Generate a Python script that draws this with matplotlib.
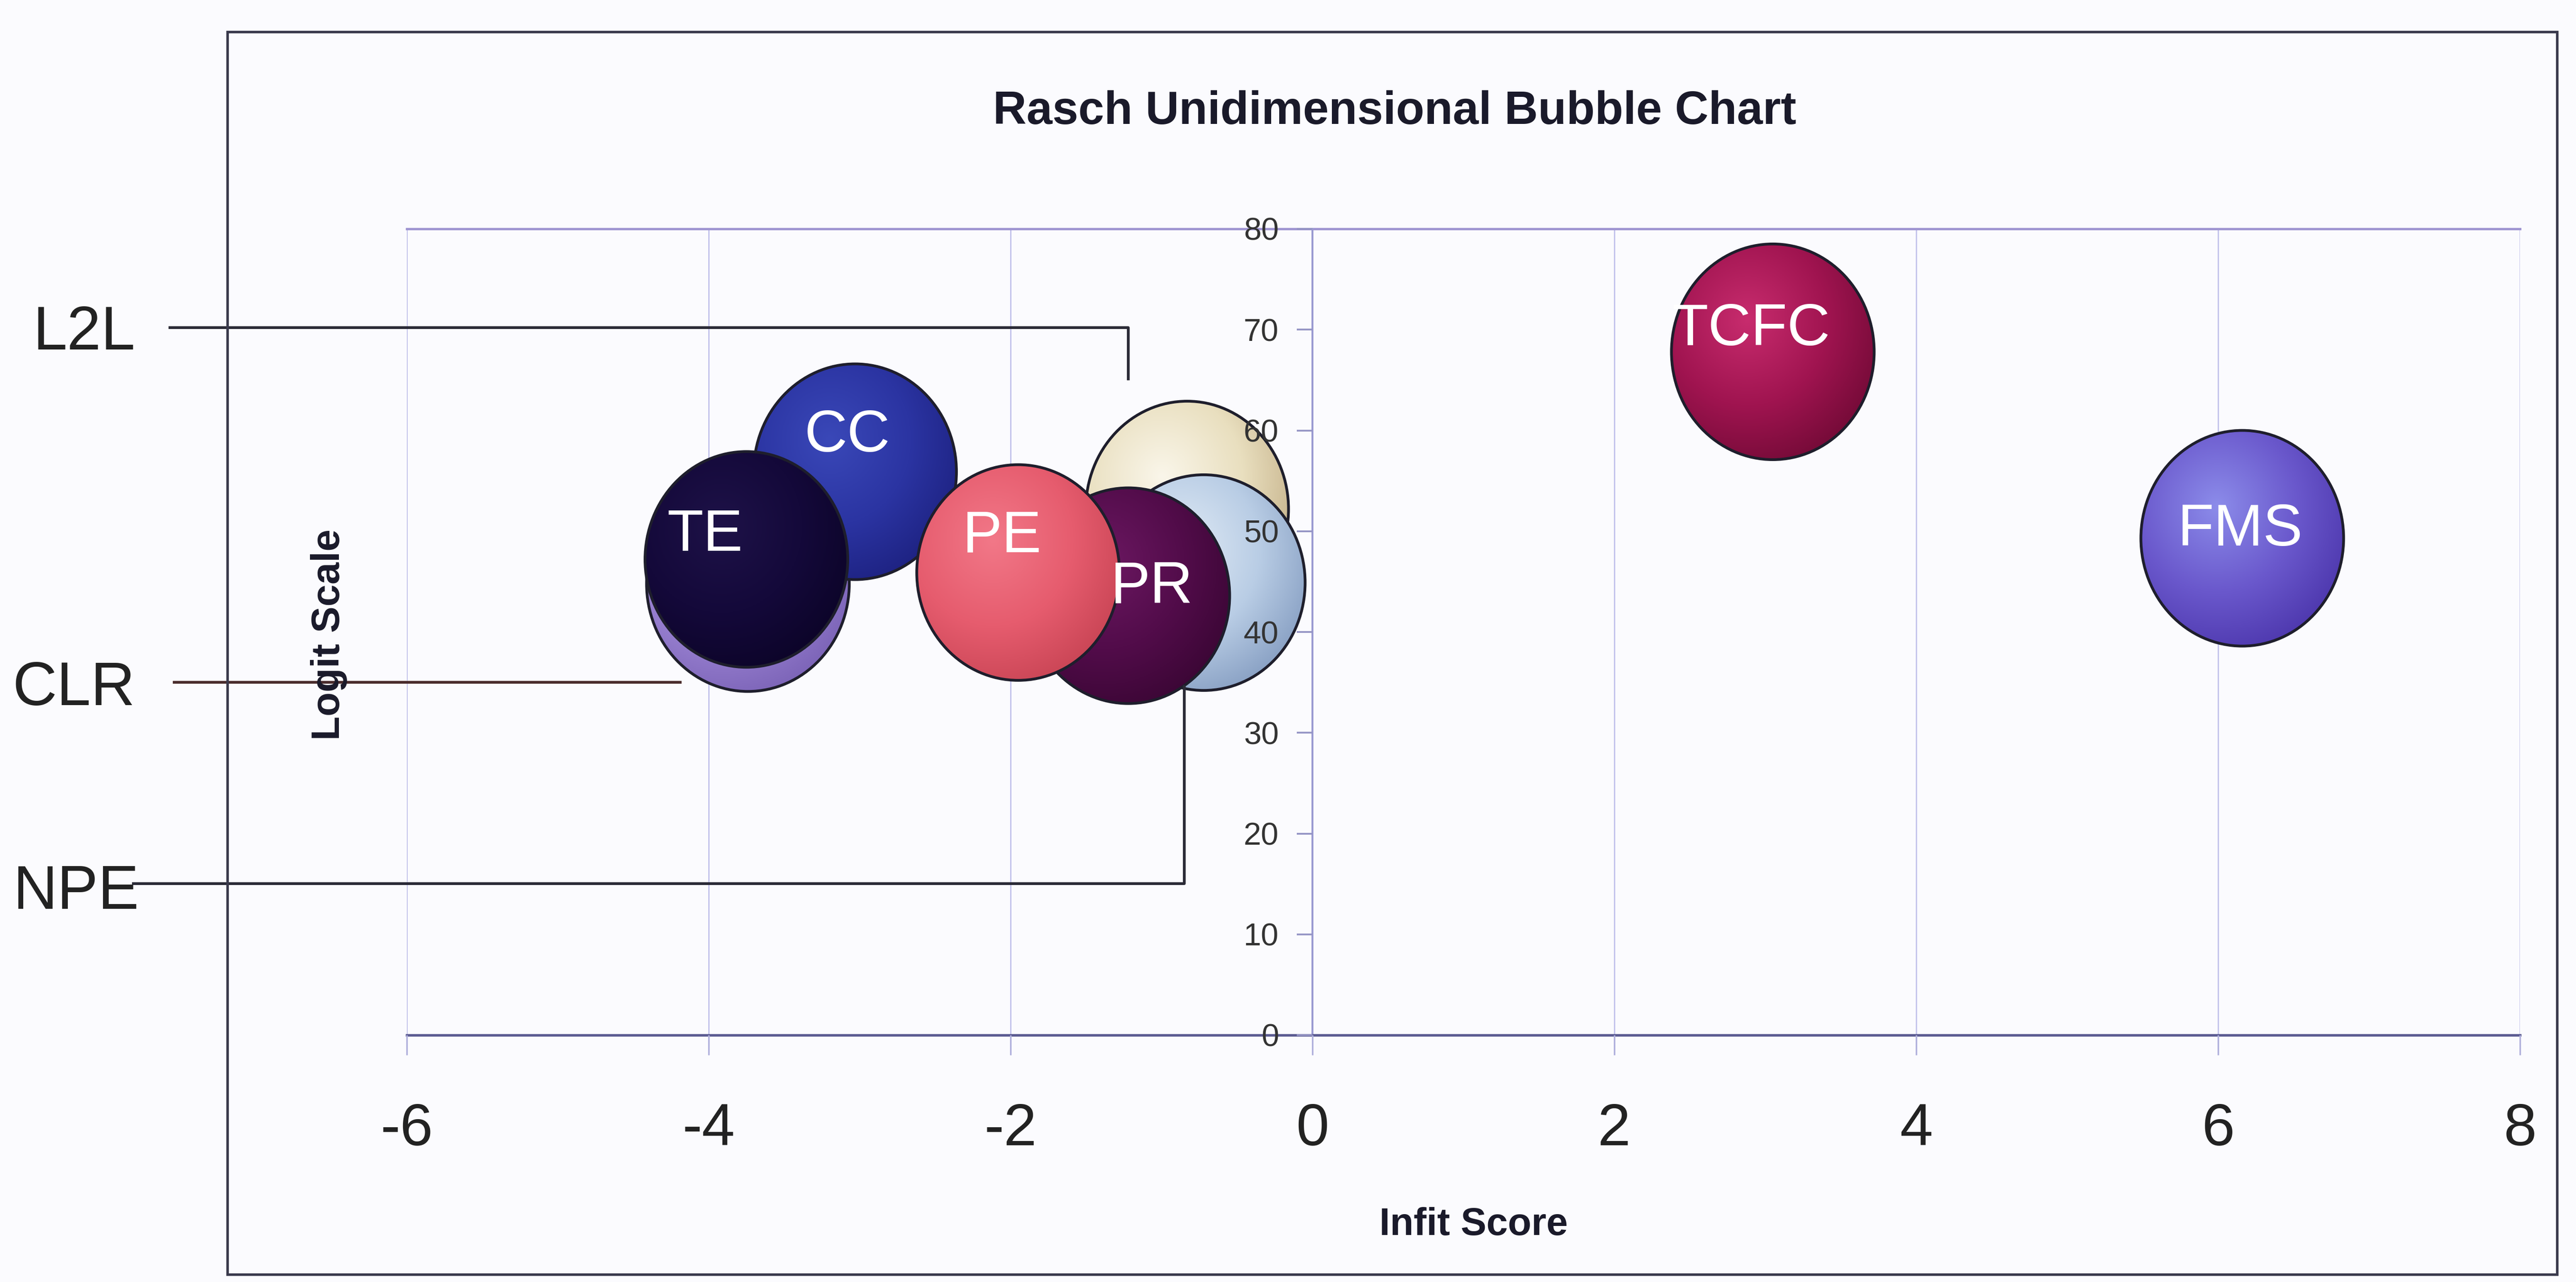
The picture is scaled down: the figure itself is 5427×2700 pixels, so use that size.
import numpy as np
import matplotlib
matplotlib.use("Agg")
import matplotlib.pyplot as plt
from matplotlib.patches import Ellipse, Rectangle
from matplotlib.colors import to_rgb

plt.rcParams["font.family"] = ["Liberation Sans", "DejaVu Sans"]
plt.rcParams["axes.unicode_minus"] = False

# bubble series, listed back to front
names = ["CLR", "L2L", "NPE", "CC", "TE", "PR", "PE", "TCFC", "FMS"]
infit = [-3.74, -0.83, -0.72, -3.03, -3.75, -1.22, -1.95, 3.05, 6.16]
logit = [44.8, 52.2, 44.9, 55.9, 47.2, 43.6, 45.9, 67.8, 49.3]
bubble_size = [1.0, 1.0, 1.0, 1.0, 1.0, 1.0, 1.0, 1.0, 1.0]
show_label = [False, False, False, True, True, True, True, True, True]

x_ticks = [-6, -4, -2, 0, 2, 4, 6, 8]
y_ticks = [0, 10, 20, 30, 40, 50, 60, 70, 80]

# light / mid / dark tones for the 3-D look
tones = {
    "CLR": ("#b29ce6", "#9a82d2", "#7a62b6"),
    "L2L": ("#faf6ea", "#e9dfbf", "#c2ae86"),
    "NPE": ("#e2ecf6", "#b9cde5", "#869ec2"),
    "CC": ("#3a48b8", "#2b34a2", "#1d2180"),
    "TE": ("#1e1248", "#14093a", "#0c0428"),
    "PR": ("#6c1862", "#520c4a", "#3a0634"),
    "PE": ("#f27888", "#e65c6e", "#c84454"),
    "TCFC": ("#c82c6e", "#a01450", "#720a36"),
    "FMS": ("#8c8cea", "#6a58cc", "#4c36ac"),
}
label_nudge = {
    "CC": (-4, 18), "TE": (-21, 12), "PE": (-8, 18),
    "PR": (12, 4), "TCFC": (-11, 11), "FMS": (-1, 4),
}

# full bubble extent in data units for size 1.0
base_w, base_h = 1.343, 21.4


def shading(light, mid, dark, n=240):
    u = np.linspace(-1, 1, n)
    gx, gy = np.meshgrid(u, u)
    d = np.clip(np.hypot(gx + 0.25, gy - 0.3) / 1.45, 0, 1)[..., None]
    l, m, k = (np.array(to_rgb(c)) for c in (light, mid, dark))
    t1 = np.clip(d / 0.55, 0, 1)
    t2 = np.clip((d - 0.55) / 0.45, 0, 1)
    return np.where(d < 0.55, l * (1 - t1) + m * t1, m * (1 - t2) + k * t2)


bg = "#fbfbfe"
fig = plt.figure(figsize=(5427 / 300, 2700 / 300), dpi=300, facecolor=bg)
ax = fig.add_axes([857 / 5427, 1 - 2180 / 2700, (5309 - 857) / 5427, (2180 - 482) / 2700])
ax.set_facecolor(bg)

for xv in x_ticks:
    ax.axvline(xv, color="#c4c4ec", lw=0.7, zorder=0.5)
ax.axhline(80, color="#a096d2", lw=1.2, zorder=0.6, clip_on=False)

max_size = max(bubble_size)
for i, name in enumerate(names):
    x, y = infit[i], logit[i]
    f = np.sqrt(bubble_size[i] / max_size)
    w, h = base_w * f, base_h * f
    light, mid, dark = tones[name]
    z = 1.0 + 0.1 * i
    body = Ellipse((x, y), w, h, facecolor=mid, edgecolor="none", zorder=z)
    ax.add_patch(body)
    im = ax.imshow(shading(light, mid, dark), extent=[x - w / 2, x + w / 2, y - h / 2, y + h / 2],
                   origin="lower", aspect="auto", interpolation="bilinear", zorder=z + 0.03)
    im.set_clip_path(body)
    ax.add_patch(Ellipse((x, y), w, h, fill=False, edgecolor="#1e1e2c", lw=1.4, zorder=z + 0.06))

for i, name in enumerate(names):
    if show_label[i]:
        ax.annotate(name, (infit[i], logit[i]), xytext=label_nudge[name], textcoords="offset points",
                    ha="center", va="center", color="white", fontsize=30, zorder=3)

ax.set_xlim(-6, 8)
ax.set_ylim(0, 80)
ax.set_xticks(x_ticks)
ax.set_yticks(y_ticks)
ax.set_axisbelow(False)

ax.spines["top"].set_visible(False)
ax.spines["right"].set_visible(False)
ax.spines["left"].set_position(("data", 0))
ax.spines["left"].set_color("#9c9cd2")
ax.spines["left"].set_linewidth(1.0)
ax.spines["bottom"].set_color("#5c5c92")
ax.spines["bottom"].set_linewidth(1.3)

ax.tick_params(axis="x", direction="out", length=10, width=0.8, color="#b0b0dc",
               labelsize=30, pad=24, labelcolor="#222222")
ax.tick_params(axis="y", direction="out", length=8, width=0.9, color="#9494c4",
               labelsize=16, pad=9, labelcolor="#333333")

# leader lines from the side labels to their bubbles
leaders = [
    ([-7.57, -1.22, -1.22], [70.2, 70.2, 65.1], "#2a2a36"),
    ([-7.54, -4.19], [35.0, 35.0], "#4a2c2c"),
    ([-7.81, -0.85, -0.85], [15.05, 15.05, 34.6], "#2a2a36"),
]
for lx, ly, lc in leaders:
    ax.plot(lx, ly, color=lc, lw=1.4, clip_on=False, zorder=4)

fig.text(285 / 5427, 1 - 703 / 2700, "L2L", ha="right", va="center", fontsize=31, color="#222222")
fig.text(285 / 5427, 1 - 1452 / 2700, "CLR", ha="right", va="center", fontsize=31, color="#222222")
fig.text(293 / 5427, 1 - 1880 / 2700, "NPE", ha="right", va="center", fontsize=31, color="#222222")

fig.text(2938 / 5427, 1 - 235 / 2700, "Rasch Unidimensional Bubble Chart", ha="center", va="center",
         fontsize=23.5, fontweight="bold", color="#1a1a2a")
fig.text(3105 / 5427, 1 - 2580 / 2700, "Infit Score", ha="center", va="center",
         fontsize=19.5, fontweight="bold", color="#1a1a2a")
fig.text(693 / 5427, 1 - 1337 / 2700, "Logit Scale", ha="center", va="center", rotation=90,
         fontsize=20, fontweight="bold", color="#1a1a2a")

# outer chart frame
fig.patches.append(Rectangle((479 / 5427, 1 - 2684 / 2700), (5387 - 479) / 5427, (2684 - 67) / 2700,
                             transform=fig.transFigure, fill=False, edgecolor="#3a3a4c", lw=1.3))

fig.savefig("out.png", dpi=300, facecolor=bg)
